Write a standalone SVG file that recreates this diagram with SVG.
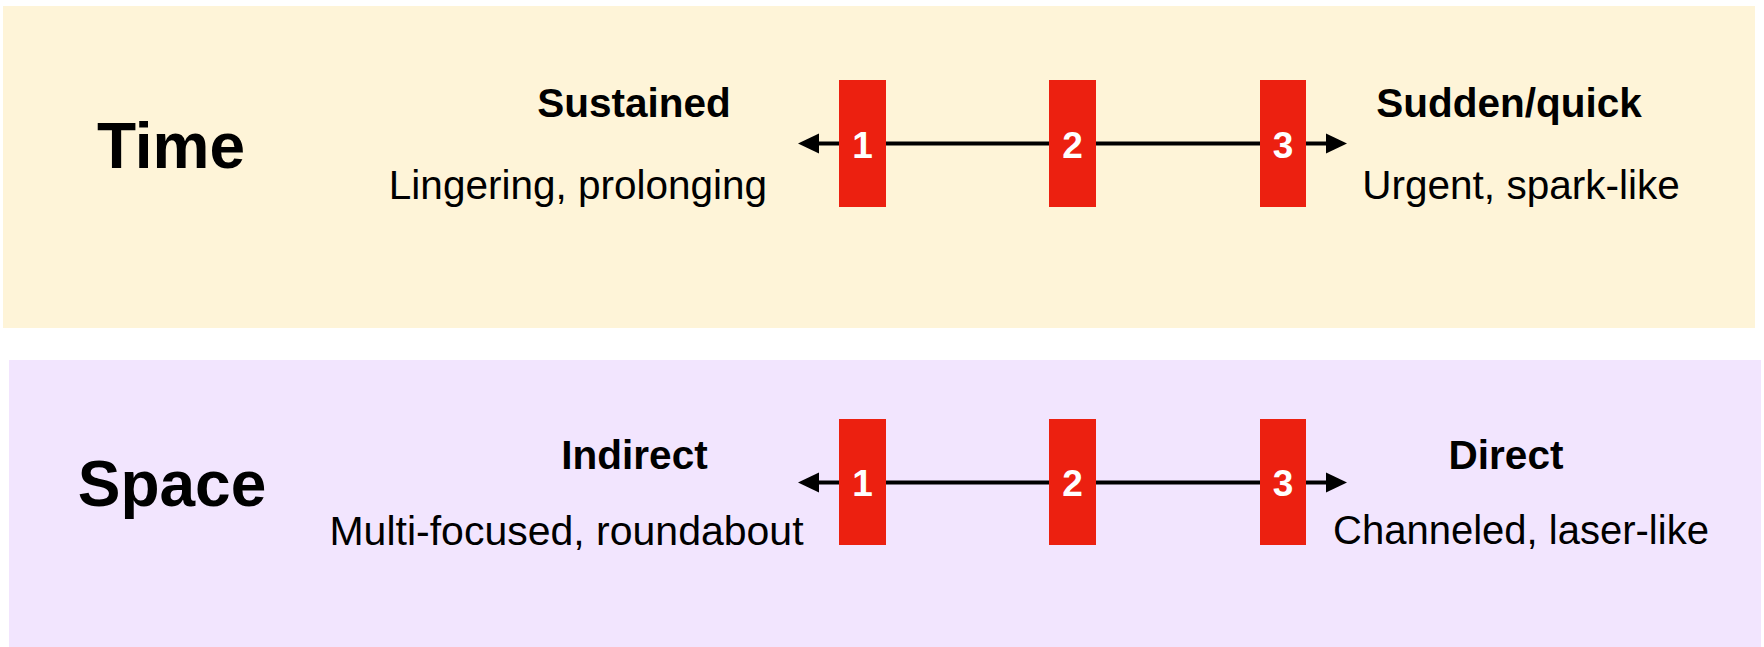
<svg xmlns="http://www.w3.org/2000/svg" width="1764" height="647" viewBox="0 0 1764 647">
<style>
text{font-family:"Liberation Sans",Arial,sans-serif;fill:#000}
.title{font-size:64px;font-weight:bold;text-anchor:middle}
.pole{font-size:40.5px;font-weight:bold;text-anchor:middle}
.desc{font-size:40.5px;text-anchor:middle}
.box{fill:#ec2010}
.num{font-size:37px;font-weight:bold;fill:#fff;text-anchor:middle}
.axis{stroke:#000;stroke-width:4;fill:none}
.head{fill:#000}
</style>
<rect width="1764" height="647" fill="#fff"/>
<g id="time-panel">
<rect x="3" y="6" width="1752" height="322" fill="#fef4d8"/>
<text class="title" x="171" y="168">Time</text>
<text class="pole" x="634" y="117">Sustained</text>
<text class="desc" x="578" y="199">Lingering, prolonging</text>
<text class="pole" x="1509" y="117">Sudden/quick</text>
<text class="desc" x="1521" y="199">Urgent, spark-like</text>
</g>
<g id="space-panel">
<rect x="9" y="360" width="1752" height="287" fill="#f2e5fe"/>
<text class="title" x="172" y="506">Space</text>
<text class="pole" x="634.5" y="469">Indirect</text>
<text class="desc" x="566.5" y="545" style="font-size:41px">Multi-focused, roundabout</text>
<text class="pole" x="1506" y="469">Direct</text>
<text class="desc" x="1521" y="544" style="font-size:40px">Channeled, laser-like</text>
</g>
<g id="connectors">
<line class="axis" x1="815" y1="143.5" x2="1330" y2="143.5"/>
<polygon class="head" points="798,143.5 819,133.5 819,153.5"/>
<polygon class="head" points="1347,143.5 1326,133.5 1326,153.5"/>
<line class="axis" x1="815" y1="482.5" x2="1330" y2="482.5"/>
<polygon class="head" points="798,482.5 819,472.5 819,492.5"/>
<polygon class="head" points="1347,482.5 1326,472.5 1326,492.5"/>
</g>
<g id="time-1"><rect class="box" x="839" y="80" width="47" height="127"/><text class="num" x="862.5" y="158">1</text></g>
<g id="time-2"><rect class="box" x="1049" y="80" width="47" height="127"/><text class="num" x="1072.5" y="158">2</text></g>
<g id="time-3"><rect class="box" x="1260" y="80" width="46" height="127"/><text class="num" x="1283" y="158">3</text></g>
<g id="space-1"><rect class="box" x="839" y="419" width="47" height="126"/><text class="num" x="862.5" y="496">1</text></g>
<g id="space-2"><rect class="box" x="1049" y="419" width="47" height="126"/><text class="num" x="1072.5" y="496">2</text></g>
<g id="space-3"><rect class="box" x="1260" y="419" width="46" height="126"/><text class="num" x="1283" y="496">3</text></g>
</svg>
